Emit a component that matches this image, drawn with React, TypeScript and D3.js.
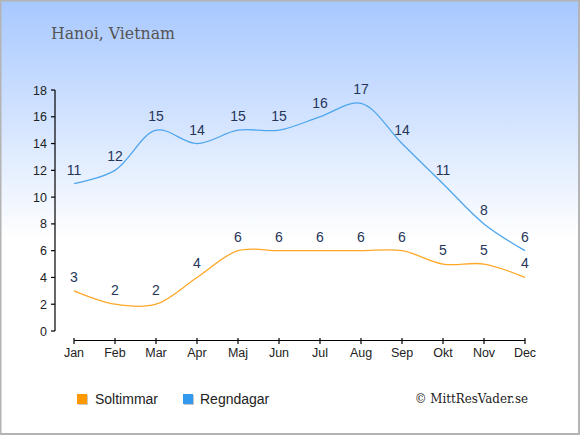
import React, { useEffect } from "react";
import * as d3 from "d3";

const months = ["Jan", "Feb", "Mar", "Apr", "Maj", "Jun", "Jul", "Aug", "Sep", "Okt", "Nov", "Dec"];
const sunHours = [3, 2, 2, 4, 6, 6, 6, 6, 6, 5, 5, 4];
const rainDays = [11, 12, 15, 14, 15, 15, 16, 17, 14, 11, 8, 6];
const yTicks = [0, 2, 4, 6, 8, 10, 12, 14, 16, 18];
const seriesNames = ["Soltimmar", "Regndagar"];
const title = "Hanoi, Vietnam";
const credit = "© MittResVader.se";

const W = 580;
const H = 435;
const SUN = "#ffa726";
const RAIN = "#4ea6ee";
const SUN_KEY = "#ff9900";
const RAIN_KEY = "#3399ee";
const LABEL = "#25355a";

export default function App() {
  useEffect(() => {
    document.body.style.margin = "0";
  }, []);

  const x = d3.scalePoint<string>().domain(months).range([74, 525]);
  const y = d3.scaleLinear().domain([0, 18]).range([331, 90]);
  const line = d3
    .line<number>()
    .x((_, i) => x(months[i]) as number)
    .y((d) => y(d))
    .curve(d3.curveCatmullRom.alpha(0.5));

  const font = "'Liberation Sans', Arial, sans-serif";
  const serif = "'DejaVu Serif Condensed', 'DejaVu Serif', serif";

  return (
    <svg width={W} height={H} style={{ position: "absolute", left: 0, top: 0, display: "block" }}>
      <defs>
        <linearGradient id="bg" x1="0" y1="0" x2="0" y2="1">
          <stop offset="0" stopColor="#a7c8ff" />
          <stop offset="0.55" stopColor="#ffffff" />
          <stop offset="1" stopColor="#ffffff" />
        </linearGradient>
      </defs>
      <rect x={0} y={0} width={W} height={H} fill="url(#bg)" />
      <rect x={0.5} y={0.5} width={W - 1.5} height={H - 1.5} fill="none" stroke="#b4b4b4" strokeWidth={2} />

      <text x={51} y={38.5} fontFamily={serif} fontStretch="condensed" fontSize={17.5} fill="#555">
        {title}
      </text>

      {/* y axis */}
      <line x1={55} x2={55} y1={y(18)} y2={y(0)} stroke="#000" strokeWidth={1.2} />
      {yTicks.map((t) => (
        <g key={t}>
          <line x1={51} x2={55} y1={y(t)} y2={y(t)} stroke="#000" strokeWidth={1.2} />
          <text x={47} y={y(t) + 4.5} textAnchor="end" fontFamily={font} fontSize={12.5} fill="#222">
            {t}
          </text>
        </g>
      ))}

      {/* x axis */}
      <line x1={74} x2={525} y1={340.5} y2={340.5} stroke="#000" strokeWidth={1.2} />
      {months.map((m) => (
        <g key={m}>
          <line x1={x(m)} x2={x(m)} y1={338} y2={344} stroke="#000" strokeWidth={1.2} />
          <text x={x(m)} y={357} textAnchor="middle" fontFamily={font} fontSize={12.5} fill="#222">
            {m}
          </text>
        </g>
      ))}

      <path d={line(rainDays) || ""} fill="none" stroke={RAIN} strokeWidth={1.3} />
      <path d={line(sunHours) || ""} fill="none" stroke={SUN} strokeWidth={1.3} />

      {rainDays.map((v, i) => (
        <text key={"r" + i} x={x(months[i])} y={y(v) - 9} textAnchor="middle" fontFamily={font} fontSize={14} fill={LABEL}>
          {v}
        </text>
      ))}
      {sunHours.map((v, i) => (
        <text key={"s" + i} x={x(months[i])} y={y(v) - 9} textAnchor="middle" fontFamily={font} fontSize={14} fill={LABEL}>
          {v}
        </text>
      ))}

      {/* legend */}
      <rect x={78} y={395} width={10} height={10} fill="#c8c8c8" />
      <rect x={77} y={394} width={10} height={10} fill={SUN_KEY} />
      <text x={95} y={403.5} fontFamily={font} fontSize={14} fill="#222">
        {seriesNames[0]}
      </text>
      <rect x={184} y={395} width={10} height={10} fill="#c8c8c8" />
      <rect x={183} y={394} width={10} height={10} fill={RAIN_KEY} />
      <text x={200} y={403.5} fontFamily={font} fontSize={14} fill="#222">
        {seriesNames[1]}
      </text>

      <text x={528} y={403} textAnchor="end" fontFamily={serif} fontStretch="condensed" fontSize={13.2} fill="#222">
        {credit}
      </text>
    </svg>
  );
}
